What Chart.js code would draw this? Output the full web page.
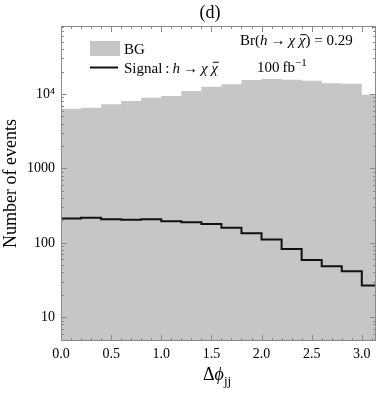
<!DOCTYPE html>
<html>
<head>
<meta charset="utf-8">
<script src="https://cdn.jsdelivr.net/npm/chart.js@4/dist/chart.umd.min.js"></script>
<style>
html,body{margin:0;padding:0;background:#fff;}
#wrap{position:relative;width:382px;height:393px;}
</style>
</head>
<body>
<div id="wrap"><canvas id="c" width="382" height="393"></canvas></div>
<script>
// Bin left edges (Δφjj), last bin ends at π
const binEdges = [0.0,0.2,0.4,0.6,0.8,1.0,1.2,1.4,1.6,1.8,2.0,2.2,2.4,2.6,2.8,3.0];
const xEnd = Math.PI;
// Background counts per bin
const bgCounts = [6350,6550,7280,8050,8920,9400,10970,12530,13490,15410,15890,15560,15100,13930,13750,9790];
// Signal counts per bin
const sigCounts = [212,217,208,204,208,195,189,179,160,135,111,83,59,48.5,41.6,26.7];
// Axis tick labels
const xTickValues = [0.0,0.5,1.0,1.5,2.0,2.5,3.0];
const yTickValues = [10,100,1000,10000];
const yTickLabels = ['10','100','1000','10\u2074'];

const SERIF = '"Liberation Serif","DejaVu Serif",serif';
const BG_COLOR = '#c6c6c6';
const FRAME = '#8a8a8a';

function stepPoints(vals){
  const pts = binEdges.map((x,i)=>({x:x,y:vals[i]}));
  pts.push({x:xEnd,y:vals[vals.length-1]});
  return pts;
}

const framePlugin = {
  id:'frame',
  afterDatasetsDraw(chart){
    const {ctx, chartArea:a, scales:{x,y}} = chart;
    ctx.save();
    ctx.strokeStyle = FRAME;
    ctx.lineWidth = 1;
    ctx.strokeRect(a.left+0.5, a.top+0.5, a.right-a.left-1, a.bottom-a.top-1);
    ctx.beginPath();
    for(let k=0;k<=31;k++){
      const v = k/10;
      const px = Math.round(x.getPixelForValue(v))+0.5;
      const len = (k%5===0)?6:3;
      ctx.moveTo(px,a.bottom); ctx.lineTo(px,a.bottom-len);
      ctx.moveTo(px,a.top); ctx.lineTo(px,a.top+len);
    }
    for(let d=0; d<=5; d++){
      for(let m=1;m<=9;m++){
        const v = m*Math.pow(10,d);
        if(v<y.min||v>y.max) continue;
        const py = Math.round(y.getPixelForValue(v))+0.5;
        const len = (m===1)?6:3;
        ctx.moveTo(a.left,py); ctx.lineTo(a.left+len,py);
        ctx.moveTo(a.right,py); ctx.lineTo(a.right-len,py);
      }
    }
    ctx.stroke();
    ctx.restore();
  },
  afterDraw(chart){
    const {ctx} = chart;
    ctx.save();
    ctx.fillStyle = '#000';
    ctx.textBaseline = 'alphabetic';
    ctx.font = '18px '+SERIF;
    ctx.textAlign = 'center';
    ctx.fillText('(d)', 210, 18);
    ctx.textAlign = 'left';
    function runs(x, yb, parts, size){
      for(const p of parts){
        const sz = p.s||size;
        ctx.font = (p.i?'italic ':'') + sz + 'px ' + SERIF;
        const w = ctx.measureText(p.t).width;
        const yy = yb + (p.dy||0);
        ctx.fillText(p.t, x, yy);
        if(p.o){
          ctx.fillRect(x+1.5, yy-size*0.72, w-0.5, 1);
        }
        x += w;
      }
      return x;
    }
    const T = '\u2009';
    // Legend
    ctx.fillStyle = BG_COLOR;
    ctx.fillRect(90,41,30,15);
    ctx.fillStyle = '#000';
    runs(124, 54, [{t:'BG'}], 15);
    ctx.strokeStyle = '#111'; ctx.lineWidth = 2;
    ctx.beginPath(); ctx.moveTo(90,67.5); ctx.lineTo(118,67.5); ctx.stroke();
    runs(124, 72.5, [{t:'Signal'+T+':'+T},{t:'h',i:1},{t:T+'\u2192'+T},{t:'\u03c7',i:1},{t:' '},{t:'\u03c7',i:1,o:1}], 15);
    // Annotations
    runs(240, 45, [{t:'Br('},{t:'h',i:1},{t:T+'\u2192'+T},{t:'\u03c7',i:1},{t:' '},{t:'\u03c7',i:1,o:1},{t:') = 0.29'}], 15);
    runs(257, 72, [{t:'100'+T+'fb'},{t:'\u22121',s:11,dy:-6}], 15);
    // x-axis title
    runs(203, 380, [{t:'\u0394'},{t:'\u03d5',i:1},{t:'jj',s:13,dy:5}], 18);
    ctx.restore();
  }
};

new Chart(document.getElementById('c'), {
  type:'line',
  data:{
    datasets:[
      {
        label:'Signal : h \u2192 \u03c7 \u03c7\u0305',
        data: stepPoints(sigCounts),
        stepped:'before',
        borderColor:'#111',
        borderWidth:2,
        pointRadius:0,
        fill:false
      },
      {
        label:'BG',
        data: stepPoints(bgCounts),
        stepped:'before',
        borderWidth:0,
        borderColor:'rgba(0,0,0,0)',
        backgroundColor:BG_COLOR,
        pointRadius:0,
        fill:'start'
      }
    ]
  },
  options:{
    responsive:false,
    animation:false,
    events:[],
    layout:{padding:{top:26,right:6,left:0,bottom:0}},
    plugins:{legend:{display:false},tooltip:{enabled:false},title:{display:false}},
    scales:{
      x:{
        type:'linear', min:0, max:xEnd,
        grid:{display:false, drawTicks:false},
        border:{display:false},
        afterBuildTicks(s){ s.ticks = xTickValues.map(v=>({value:v})); },
        afterFit(s){ s.height = 52; },
        ticks:{
          padding:5, maxRotation:0, autoSkip:false,
          color:'#000',
          font:{family:SERIF, size:14},
          callback:(v)=>Number(v).toFixed(1)
        }
      },
      y:{
        type:'logarithmic', min:4.8, max:82000,
        grid:{display:false, drawTicks:false},
        border:{display:false},
        afterBuildTicks(s){ s.ticks = yTickValues.map(v=>({value:v})); },
        afterFit(s){ s.width = 61; },
        ticks:{
          padding:6, autoSkip:false,
          color:'#000',
          font:{family:SERIF, size:14},
          callback:(v)=>{ const i = yTickValues.indexOf(v); return i>=0 ? yTickLabels[i] : ''; }
        },
        title:{
          display:true, text:'Number of events', color:'#000',
          font:{family:SERIF, size:18},
          padding:{top:0,bottom:0}
        }
      }
    }
  },
  plugins:[framePlugin]
});
</script>
</body>
</html>
